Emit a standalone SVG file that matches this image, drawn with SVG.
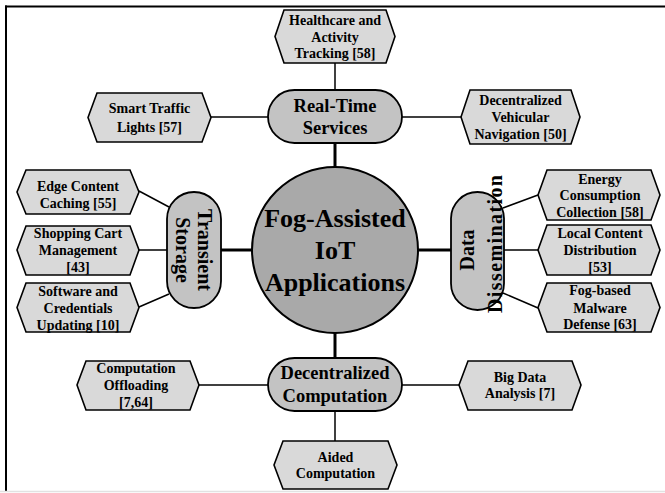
<svg xmlns="http://www.w3.org/2000/svg" width="665" height="493" viewBox="0 0 665 493">
<style>
text{font-family:"Liberation Serif","Times New Roman",serif;font-weight:bold;fill:#000;text-anchor:middle}
.hex{fill:#d9d9d9;stroke:#000;stroke-width:1.6}
.pill{fill:#c3c3c3;stroke:#000;stroke-width:1.8}
.hub{fill:#a9a9a9;stroke:#000;stroke-width:2}
.s{font-size:14px}
.m{font-size:18.5px}
.v{font-size:20px}
.c{font-size:26px}
.thin{stroke:#000;stroke-width:1.5;fill:none}
.thick{stroke:#000;stroke-width:3;fill:none}
</style>
<g id="frame">
<line x1="6" y1="5.5" x2="6" y2="491" stroke="#000" stroke-width="2"/>
<line x1="5" y1="6.5" x2="665" y2="6.5" stroke="#000" stroke-width="2"/>
<line x1="0" y1="491.5" x2="665" y2="491.5" stroke="#e2e2e2" stroke-width="1.5"/>
</g>
<g id="connectors">
<line class="thin" x1="335" y1="63" x2="335" y2="90"/>
<line class="thin" x1="211" y1="117" x2="268" y2="117"/>
<line class="thin" x1="402" y1="117" x2="461" y2="117"/>
<line class="thin" x1="139" y1="191" x2="169" y2="207"/>
<line class="thin" x1="139" y1="250" x2="167" y2="250"/>
<line class="thin" x1="139" y1="307" x2="169" y2="294"/>
<line class="thin" x1="503" y1="208" x2="538" y2="195"/>
<line class="thin" x1="504" y1="250" x2="538" y2="250"/>
<line class="thin" x1="503" y1="293" x2="538" y2="308"/>
<line class="thin" x1="199" y1="385" x2="268" y2="385"/>
<line class="thin" x1="402" y1="385" x2="459" y2="385"/>
<line class="thin" x1="335" y1="411" x2="335" y2="441"/>
<line class="thick" x1="335" y1="143" x2="335" y2="167"/>
<line class="thick" x1="221" y1="250" x2="252" y2="250"/>
<line class="thick" x1="418" y1="250" x2="451" y2="250"/>
<line class="thick" x1="335" y1="333" x2="335" y2="358"/>
</g>
<g id="center">
<circle class="hub" cx="335" cy="250" r="83"/>
<text class="c" x="335" y="226.5">Fog-Assisted</text>
<text class="c" x="335" y="258.5">IoT</text>
<text class="c" x="335" y="290.5">Applications</text>
</g>
<g id="real-time-services">
<rect class="pill" x="268" y="90" width="134" height="53" rx="26.5"/>
<text class="m" x="335" y="112">Real-Time</text>
<text class="m" x="335" y="134">Services</text>
</g>
<g id="decentralized-computation">
<rect class="pill" x="268" y="358" width="134" height="53" rx="26.5"/>
<text class="m" x="335" y="379">Decentralized</text>
<text class="m" x="335" y="402">Computation</text>
</g>
<g id="transient-storage">
<rect class="pill" x="167" y="192" width="54" height="116" rx="27"/>
<text class="v" transform="translate(194,250) rotate(90)"><tspan x="0" y="-3.5">Transient</tspan><tspan x="0" y="18.5">Storage</tspan></text>
</g>
<g id="data-dissemination">
<rect class="pill" x="451" y="192" width="53" height="118" rx="26.5"/>
<text class="v" transform="translate(477.5,251) rotate(-90)"><tspan x="1" y="-4">Data</tspan><tspan x="7" y="24" textLength="138" lengthAdjust="spacing">Dissemination</tspan></text>
</g>
<g id="healthcare">
<polygon class="hex" points="284,10 386,10 395,36.5 386,63 284,63 275,36.5"/>
<text class="s" x="335" y="24.6">Healthcare and</text>
<text class="s" x="335" y="41.6">Activity</text>
<text class="s" x="335" y="57.6">Tracking [58]</text>
</g>
<g id="smart-traffic">
<polygon class="hex" points="97,93 202,93 211,117.5 202,142 97,142 88,117.5"/>
<text class="s" x="149.5" y="112.6">Smart Traffic</text>
<text class="s" x="149.5" y="131.6">Lights [57]</text>
</g>
<g id="vehicular-navigation">
<polygon class="hex" points="470,90 571,90 580,117 571,144 470,144 461,117"/>
<text class="s" x="520.5" y="104.6">Decentralized</text>
<text class="s" x="520.5" y="121.6">Vehicular</text>
<text class="s" x="520.5" y="138.6">Navigation [50]</text>
</g>
<g id="edge-caching">
<polygon class="hex" points="26,170 130,170 139,192 130,214 26,214 17,192"/>
<text class="s" x="78" y="190.6">Edge Content</text>
<text class="s" x="78" y="207.6">Caching [55]</text>
</g>
<g id="shopping-cart">
<polygon class="hex" points="26,226 130,226 139,250 130,275 26,275 17,250"/>
<text class="s" x="78" y="237.6">Shopping Cart</text>
<text class="s" x="78" y="254.6">Management</text>
<text class="s" x="78" y="271.6">[43]</text>
</g>
<g id="software-updating">
<polygon class="hex" points="26,283 130,283 139,307.5 130,332 26,332 17,307.5"/>
<text class="s" x="78" y="295.6">Software and</text>
<text class="s" x="78" y="312.6">Credentials</text>
<text class="s" x="78" y="329.6">Updating [10]</text>
</g>
<g id="energy-collection">
<polygon class="hex" points="547,170 651,170 660,195 651,220 547,220 538,195"/>
<text class="s" x="600" y="183.6">Energy</text>
<text class="s" x="600" y="199.6">Consumption</text>
<text class="s" x="600" y="216.6">Collection [58]</text>
</g>
<g id="local-content">
<polygon class="hex" points="547,225 651,225 660,250 651,275 547,275 538,250"/>
<text class="s" x="600" y="237.6">Local Content</text>
<text class="s" x="600" y="254.6">Distribution</text>
<text class="s" x="600" y="271.6">[53]</text>
</g>
<g id="malware-defense">
<polygon class="hex" points="547,283 651,283 660,307.5 651,332 547,332 538,307.5"/>
<text class="s" x="600" y="294.6">Fog-based</text>
<text class="s" x="600" y="312.6">Malware</text>
<text class="s" x="600" y="328.6">Defense [63]</text>
</g>
<g id="computation-offloading">
<polygon class="hex" points="86,361 190,361 199,385 190,410 86,410 77,385"/>
<text class="s" x="136" y="372.6">Computation</text>
<text class="s" x="136" y="389.6">Offloading</text>
<text class="s" x="136" y="406.6">[7,64]</text>
</g>
<g id="big-data">
<polygon class="hex" points="468,361 572,361 581,385 572,410 468,410 459,385"/>
<text class="s" x="520" y="381.6">Big Data</text>
<text class="s" x="520" y="397.6">Analysis [7]</text>
</g>
<g id="aided-computation">
<polygon class="hex" points="283,441 388,441 397,465 388,489 283,489 274,465"/>
<text class="s" x="335.5" y="461.6">Aided</text>
<text class="s" x="335.5" y="477.6">Computation</text>
</g>
</svg>
